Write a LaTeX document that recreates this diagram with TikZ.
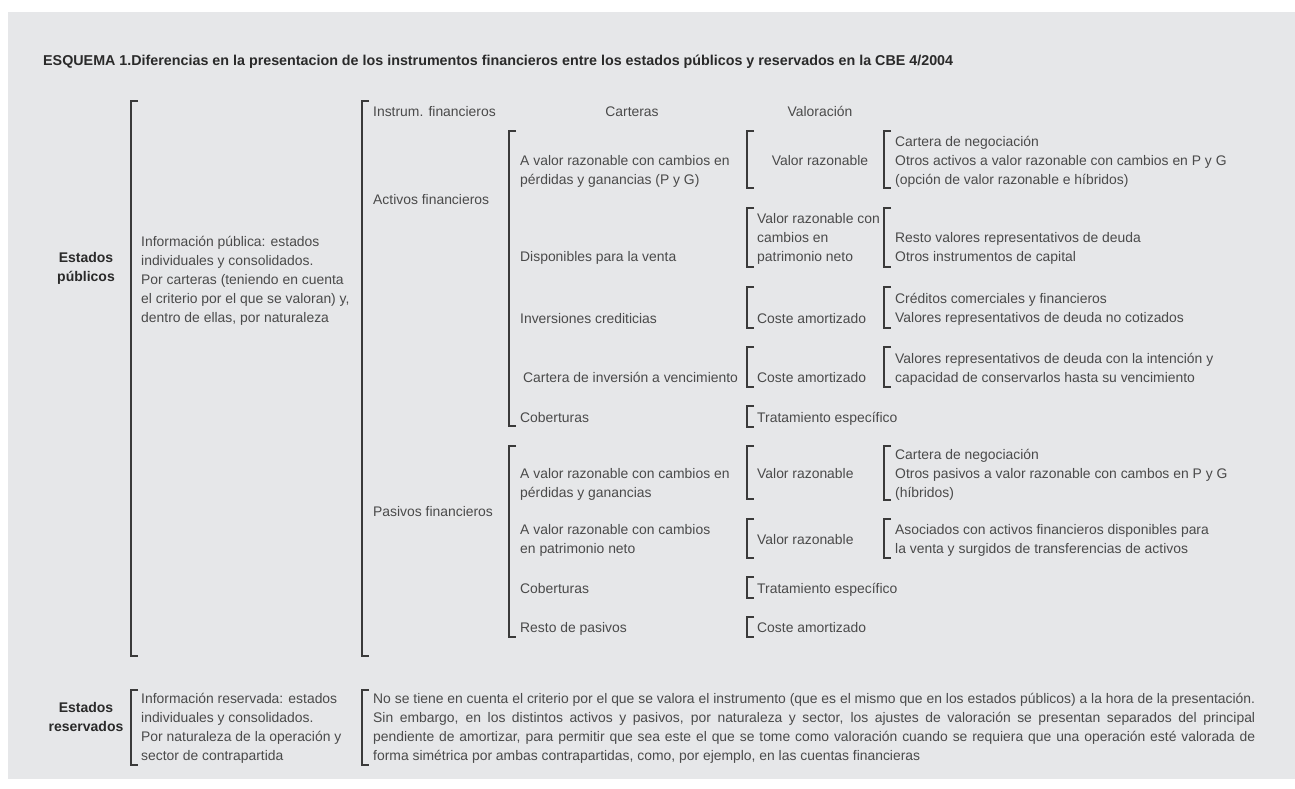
\documentclass[tikz,border=0pt]{standalone}
\usepackage{fontspec}
\setmainfont{Liberation Sans}
\usepackage{xcolor}
\usepackage{tikz}

\definecolor{fondo}{HTML}{E6E7E9}
\definecolor{tinta}{HTML}{4A4A4A}
\definecolor{negro}{HTML}{2A2A2A}
\definecolor{linea}{HTML}{3A3A3A}

\tikzset{
  txt/.style={anchor=base west, inner sep=0pt, text=tinta, align=left,
    font=\fontsize{13.9}{19}\selectfont},
  txtc/.style={txt, anchor=base, align=center},
  lab/.style={anchor=base, inner sep=0pt, text=negro, align=center,
    font=\bfseries\fontsize{14}{19}\selectfont},
  corch/.style={draw=linea, line width=1.3pt},
}

\begin{document}
\begin{tikzpicture}[x=1pt,y=-1pt]
  \useasboundingbox (0,0) rectangle (1295,789);
  % fondo
  \fill[fondo] (8,12) rectangle (1295,779);
  % titulo
  \node[txt, text=negro, font=\bfseries\fontsize{14.3}{19}\selectfont] (titulo) at (43,66)
    {ESQUEMA 1.Diferencias en la presentacion de los instrumentos financieros entre los estados públicos y reservados en la CBE 4/2004};
  % corchetes grandes
  \draw[corch] (138,101)--(131,101)--(131,656)--(138,656);
  \draw[corch] (369,101)--(362,101)--(362,656)--(369,656);
  \draw[corch] (138,690)--(131,690)--(131,765)--(138,765);
  \draw[corch] (369,690)--(362,690)--(362,765)--(369,765);
  % corchetes de carteras
  \draw[corch] (516,131)--(509,131)--(509,426)--(516,426);
  \draw[corch] (516,446)--(509,446)--(509,637)--(516,637);
  % corchetes de valoracion
  \draw[corch] (754,131)--(747,131)--(747,188)--(754,188);
  \draw[corch] (754,208)--(747,208)--(747,267)--(754,267);
  \draw[corch] (754,287)--(747,287)--(747,328)--(754,328);
  \draw[corch] (754,347)--(747,347)--(747,387)--(754,387);
  \draw[corch] (754,406)--(747,406)--(747,427)--(754,427);
  \draw[corch] (754,446)--(747,446)--(747,499)--(754,499);
  \draw[corch] (754,519)--(747,519)--(747,558)--(754,558);
  \draw[corch] (754,577)--(747,577)--(747,598)--(754,598);
  \draw[corch] (754,617)--(747,617)--(747,637)--(754,637);
  % corchetes de detalle
  \draw[corch] (891,131)--(884,131)--(884,188)--(891,188);
  \draw[corch] (891,208)--(884,208)--(884,267)--(891,267);
  \draw[corch] (891,287)--(884,287)--(884,328)--(891,328);
  \draw[corch] (891,347)--(884,347)--(884,387)--(891,387);
  \draw[corch] (891,446)--(884,446)--(884,500)--(891,500);
  \draw[corch] (891,519)--(884,519)--(884,558)--(891,558);
  % estados publicos (base = ultima linea)
  \node[lab] (pub) at (86,281) {Estados\\públicos};
  \node[txt] (infpub) at (141,322) {Información pública: estados\\individuales y consolidados.\\Por carteras (teniendo en cuenta\\el criterio por el que se valoran) y,\\dentro de ellas, por naturaleza};
  % cabecera
  \node[txt] (hinst) at (373,117) {Instrum. financieros};
  \node[txtc] (hcart) at (632,117) {Carteras};
  \node[txtc] (hval) at (820,117) {Valoración};
  % activos
  \node[txt] (act) at (373,204) {Activos financieros};
  \node[txt] (ca1) at (520,184) {A valor razonable con cambios en\\pérdidas y ganancias (P y G)};
  \node[txt] (ca2) at (520,261) {Disponibles para la venta};
  \node[txt] (ca3) at (520,323) {Inversiones crediticias};
  \node[txt] (ca4) at (523,382) {Cartera de inversión a vencimiento};
  \node[txt] (ca5) at (520,422) {Coberturas};
  \node[txtc] (va1) at (820,165) {Valor razonable};
  \node[txt] (va2) at (757,261) {Valor razonable con\\cambios en\\patrimonio neto};
  \node[txt] (va3) at (757,323) {Coste amortizado};
  \node[txt] (va4) at (757,382) {Coste amortizado};
  \node[txt] (va5) at (757,422) {Tratamiento específico};
  \node[txt] (da1) at (895,184) {Cartera de negociación\\Otros activos a valor razonable con cambios en P y G\\(opción de valor razonable e híbridos)};
  \node[txt] (da2) at (895,261) {Resto valores representativos de deuda\\Otros instrumentos de capital};
  \node[txt] (da3) at (895,322) {Créditos comerciales y financieros\\Valores representativos de deuda no cotizados};
  \node[txt] (da4) at (895,382) {Valores representativos de deuda con la intención y\\capacidad de conservarlos hasta su vencimiento};
  % pasivos
  \node[txt] (pas) at (373,516) {Pasivos financieros};
  \node[txt] (cp1) at (520,497) {A valor razonable con cambios en\\pérdidas y ganancias};
  \node[txt] (cp2) at (520,553) {A valor razonable con cambios\\en patrimonio neto};
  \node[txt] (cp3) at (520,593) {Coberturas};
  \node[txt] (cp4) at (520,632) {Resto de pasivos};
  \node[txt] (vp1) at (757,478) {Valor razonable};
  \node[txt] (vp2) at (757,544) {Valor razonable};
  \node[txt] (vp3) at (757,593) {Tratamiento específico};
  \node[txt] (vp4) at (757,632) {Coste amortizado};
  \node[txt] (dp1) at (895,497) {Cartera de negociación\\Otros pasivos a valor razonable con cambos en P y G\\(híbridos)};
  \node[txt] (dp2) at (895,553) {Asociados con activos financieros disponibles para\\la venta y surgidos de transferencias de activos};
  % estados reservados
  \node[lab] (res) at (86,731) {Estados\\reservados};
  \node[txt] (infres) at (141,760) {Información reservada: estados\\individuales y consolidados.\\Por naturaleza de la operación y\\sector de contrapartida};
  \node[txt, text width=882pt, align=justify] (parrafo) at (373,703)
    {\tolerance=9999 No se tiene en cuenta el criterio por el que se valora el instrumento (que es el mismo que en los estados públicos) a la hora de la presentación.\linebreak
     Sin embargo, en los distintos activos y pasivos, por naturaleza y sector, los ajustes de valoración se presentan separados del principal\linebreak
     pendiente de amortizar, para permitir que sea este el que se tome como valoración cuando se requiera que una operación esté valorada de\linebreak
     forma simétrica por ambas contrapartidas, como, por ejemplo, en las cuentas financieras};
\end{tikzpicture}
\end{document}
